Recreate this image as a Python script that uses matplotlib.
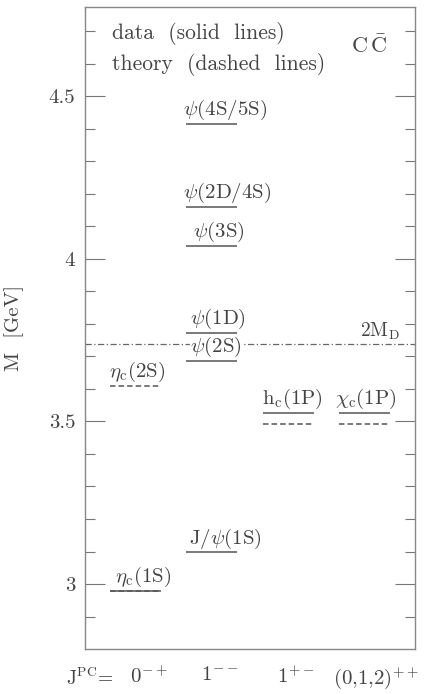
import numpy as np
import matplotlib
matplotlib.use('Agg')
import matplotlib.pyplot as plt

plt.rcParams['font.family'] = ['cmr10', 'DejaVu Serif']
plt.rcParams['mathtext.fontset'] = 'cm'
plt.rcParams['axes.unicode_minus'] = False
plt.rcParams['axes.formatter.use_mathtext'] = True

ink = '#444444'
line_col = '#555555'
fs = 15

# columns (J^PC)
col_labels = [r'$0^{-+}$', r'$1^{--}$', r'$1^{+-}$', r'$(0{,}1{,}2)^{++}$']

# measured levels: column, mass [GeV]
data_col = [1, 2, 2, 2, 2, 2, 2, 3, 4]
data_mass = [2.980, 3.097, 3.686, 3.773, 4.040, 4.159, 4.415, 3.526, 3.525]

# theory levels
theo_col = [1, 1, 3, 4]
theo_mass = [2.978, 3.610, 3.493, 3.493]

# state names
state_names = [r'$\eta_{\rm c}$(1S)', r'J/$\psi$(1S)', r'$\psi$(2S)', r'$\psi$(1D)',
               r'$\psi$(3S)', r'$\psi$(2D/4S)', r'$\psi$(4S/5S)',
               r'h$_{\rm c}$(1P)', r'$\chi_{\rm c}$(1P)', r'$\eta_{\rm c}$(2S)']
state_mass = [2.980, 3.097, 3.686, 3.773, 4.040, 4.159, 4.415, 3.526, 3.525, 3.610]
state_col = [1, 2, 2, 2, 2, 2, 2, 3, 4, 1]
# left-edge shift of each label relative to the level start
label_dx = [0.06, 0.03, 0.05, 0.05, 0.09, -0.04, -0.04, -0.01, -0.05, -0.01]

two_md = 3.739

half = 0.335

fig = plt.figure(figsize=(4.24, 6.94), dpi=100)
ax = fig.add_axes([0.2005, 0.0648, 0.7783, 0.9251])

ax.hlines(data_mass, np.array(data_col) - half, np.array(data_col) + half,
          colors=line_col, lw=1.1)
ax.hlines(theo_mass, np.array(theo_col) - half, np.array(theo_col) + half,
          colors=line_col, lw=1.1, linestyles=(0, (3.6, 2.0)))
ax.axhline(two_md, color='#666666', lw=0.9, ls=(0, (5, 2, 1, 2)))

for name, m, c, dx in zip(state_names, state_mass, state_col, label_dx):
    kw = {}
    if name == r'$\psi$(2S)':
        kw['bbox'] = dict(facecolor='white', edgecolor='none', pad=0.5)
    ax.annotate(name, (c - half + dx, m), xytext=(0, 6.5), textcoords='offset points',
                ha='left', va='baseline', fontsize=fs, color=ink, **kw)

ax.annotate(r'2M$_{\rm D}$', (4.47, two_md), xytext=(0, 5), textcoords='offset points',
            ha='right', va='baseline', fontsize=14, color=ink)

ax.text(0.082, 0.9595, 'data  (solid  lines)', transform=ax.transAxes,
        ha='left', va='center', fontsize=15.5, color=ink)
ax.text(0.082, 0.911, 'theory  (dashed  lines)', transform=ax.transAxes,
        ha='left', va='center', fontsize=15.5, color=ink)
ax.text(0.86, 0.94, r'C$\,\bar{\rm C}$', transform=ax.transAxes,
        ha='center', va='center', fontsize=16, color=ink)

ax.set_xlim(0.335, 4.665)
ax.set_ylim(2.8, 4.775)

ax.set_yticks([3, 3.5, 4, 4.5])
ax.set_yticklabels(['3', '3.5', '4', '4.5'])
ax.set_yticks(np.arange(2.9, 4.75, 0.1), minor=True)
ax.tick_params(axis='y', which='major', direction='in', length=14.4, width=0.8,
               color='#777777', right=True, labelsize=fs, labelcolor=ink, pad=7)
ax.tick_params(axis='y', which='minor', direction='in', length=7.2, width=0.8,
               color='#777777', right=True)

ax.set_xticks([1.17, 2.1, 3.1, 4.15])
ax.set_xticklabels(col_labels)
ax.tick_params(axis='x', length=0, labelsize=fs, labelcolor=ink, pad=12)

fig.text(90 / 424, 1 - 678 / 694, r'J$^{\rm PC}$=', ha='center', va='center',
         fontsize=14, color=ink)

ax.set_ylabel('M  [GeV]', fontsize=fs, color=ink, labelpad=18)

for s in ax.spines.values():
    s.set_color('#888888')
    s.set_linewidth(1.0)

fig.savefig('out.png', dpi=100)
